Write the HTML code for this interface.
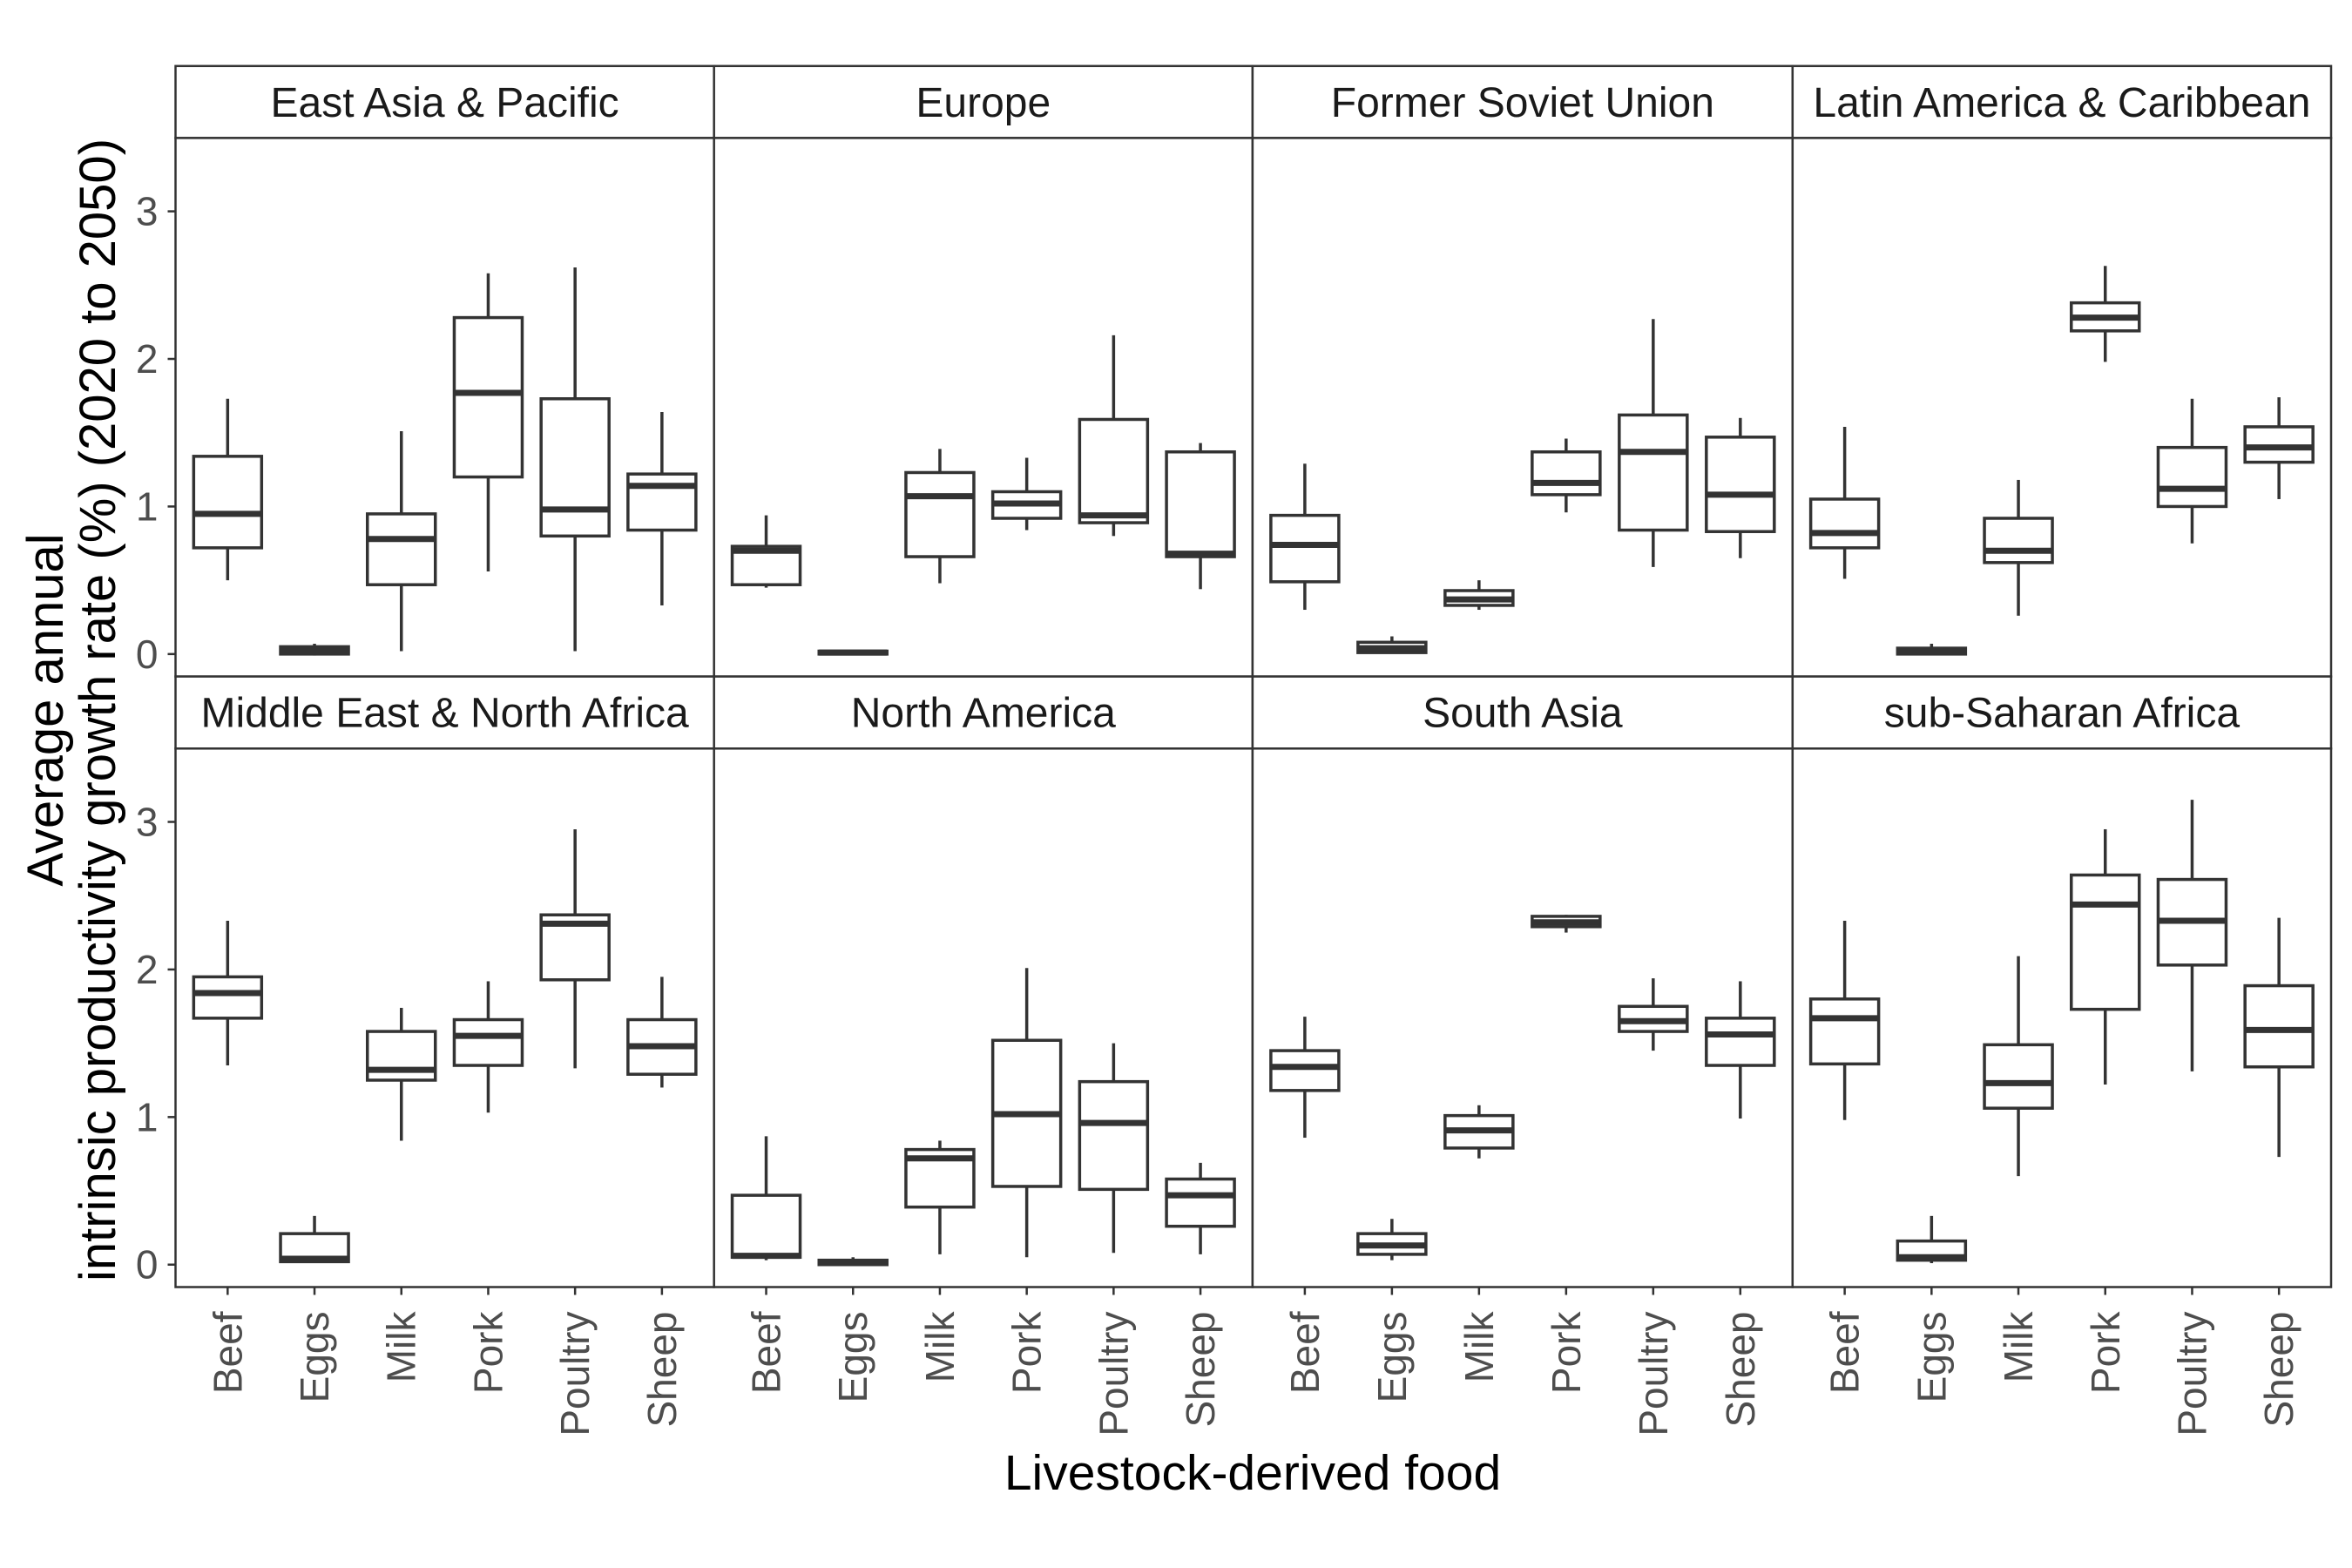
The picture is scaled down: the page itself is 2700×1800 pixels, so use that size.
<!DOCTYPE html>
<html><head><meta charset="utf-8"><style>
html,body{margin:0;padding:0;background:#fff;}
svg{display:block;font-family:"Liberation Sans",Arial,sans-serif;}
</style></head><body>
<svg id="chart" width="2700" height="1800" viewBox="0 0 2700 1800" xmlns="http://www.w3.org/2000/svg">
<text x="1438" y="1710" font-size="57" text-anchor="middle" fill="#000">Livestock-derived food</text>
<g transform="translate(0,815) rotate(-90)">
<text x="0" y="72" font-size="58" text-anchor="middle" fill="#000">Average annual</text>
<text x="0" y="132" font-size="58" text-anchor="middle" fill="#000">intrinsic productivity growth rate (%)  (2020 to 2050)</text>
</g>
<g id="panels"></g>
</svg>
<script>
const regions = ["East Asia & Pacific","Europe","Former Soviet Union","Latin America & Caribbean","Middle East & North Africa","North America","South Asia","sub-Saharan Africa"];
const foods = ["Beef","Eggs","Milk","Pork","Poultry","Sheep"];
const yTicks = [0,1,2,3];
// per region: [lowerWhisker, q1, median, q3, upperWhisker] for each food
const eap  = [[0.5,0.72,0.95,1.34,1.73],[-0.01,0,0.02,0.05,0.07],[0.02,0.47,0.78,0.95,1.51],[0.56,1.2,1.77,2.28,2.58],[0.02,0.8,0.98,1.73,2.62],[0.33,0.84,1.14,1.22,1.64]];
const eur  = [[0.45,0.47,0.7,0.73,0.94],[0,0,0.01,0.02,0.02],[0.48,0.66,1.07,1.23,1.39],[0.84,0.92,1.02,1.1,1.33],[0.8,0.89,0.94,1.59,2.16],[0.44,0.66,0.68,1.37,1.43]];
const fsu  = [[0.3,0.49,0.74,0.94,1.29],[0.01,0.01,0.04,0.08,0.12],[0.3,0.33,0.37,0.43,0.5],[0.96,1.08,1.16,1.37,1.46],[0.59,0.84,1.37,1.62,2.27],[0.65,0.83,1.08,1.47,1.6]];
const lac  = [[0.51,0.72,0.82,1.05,1.54],[0,0,0.02,0.04,0.07],[0.26,0.62,0.7,0.92,1.18],[1.98,2.19,2.28,2.38,2.63],[0.75,1.0,1.12,1.4,1.73],[1.05,1.3,1.4,1.54,1.74]];
const mena = [[1.35,1.67,1.84,1.95,2.33],[0.02,0.02,0.04,0.21,0.33],[0.84,1.25,1.32,1.58,1.74],[1.03,1.35,1.55,1.66,1.92],[1.33,1.93,2.31,2.37,2.95],[1.2,1.29,1.48,1.66,1.95]];
const nam  = [[0.03,0.05,0.06,0.47,0.87],[-0.01,0,0.01,0.03,0.05],[0.07,0.39,0.72,0.78,0.84],[0.05,0.53,1.02,1.52,2.01],[0.08,0.51,0.96,1.24,1.5],[0.07,0.26,0.47,0.58,0.69]];
const sas  = [[0.86,1.18,1.34,1.45,1.68],[0.03,0.07,0.13,0.21,0.31],[0.72,0.79,0.91,1.01,1.08],[2.25,2.29,2.32,2.36,2.37],[1.45,1.58,1.65,1.75,1.94],[0.99,1.35,1.56,1.67,1.92]];
const ssa  = [[0.98,1.36,1.67,1.8,2.33],[0.01,0.03,0.05,0.16,0.33],[0.6,1.06,1.23,1.49,2.09],[1.22,1.73,2.44,2.64,2.95],[1.31,2.03,2.33,2.61,3.15],[0.73,1.34,1.59,1.89,2.35]];
const regionData = [eap,eur,fsu,lac,mena,nam,sas,ssa];

const NS="http://www.w3.org/2000/svg";
const colX=[201.5,819.7,1437.9,2057.8,2676];
const rows=[{st:75.8,pt:158.4,pb:776.6},{st:776.6,pt:859.3,pb:1477.5}];
const yMin=-0.152,yMax=3.497;
const C="#333333";
function mk(tag,attrs,parent){const e=document.createElementNS(NS,tag);for(const k in attrs)e.setAttribute(k,attrs[k]);parent.appendChild(e);return e;}
const root=document.getElementById('panels');
regions.forEach((reg,ri)=>{
  const c=ri%4,r=Math.floor(ri/4);
  const x0=colX[c],x1=colX[c+1],row=rows[r];
  const yS=v=>row.pb-(v-yMin)/(yMax-yMin)*(row.pb-row.pt);
  const xS=i=>x0+(i+1-0.4)/6.2*(x1-x0);
  const g=mk('g',{},root);
  
  
  const strip=mk('rect',{x:x0,y:row.st,width:x1-x0,height:row.pt-row.st,fill:'#fff',stroke:C,'stroke-width':2.5},g);
  
  
  const st=mk('text',{x:(x0+x1)/2,y:row.st+58,'font-size':48,'text-anchor':'middle',fill:'#1a1a1a'},g);
  st.textContent=reg;
  
  
  const bg=mk('rect',{x:x0,y:row.pt,width:x1-x0,height:row.pb-row.pt,fill:'#fff',stroke:'none'},g);
  
  
  regionData[ri].forEach((d,fi)=>{
    const cx=xS(fi),hw=39;
    const bx=mk('g',{},g);
    
    
    mk('line',{x1:cx,x2:cx,y1:yS(d[0]),y2:yS(d[1]),stroke:C,'stroke-width':3.5},bx);
    mk('line',{x1:cx,x2:cx,y1:yS(d[3]),y2:yS(d[4]),stroke:C,'stroke-width':3.5},bx);
    mk('rect',{x:cx-hw,y:yS(d[3]),width:2*hw,height:Math.max(0.5,yS(d[1])-yS(d[3])),fill:'#fff',stroke:C,'stroke-width':3.5},bx);
    mk('line',{x1:cx-hw,x2:cx+hw,y1:yS(d[2]),y2:yS(d[2]),stroke:C,'stroke-width':7},bx);
  });
  const bd=mk('rect',{x:x0,y:row.pt,width:x1-x0,height:row.pb-row.pt,fill:'none',stroke:C,'stroke-width':2.5},g);
  
  
  if(c===0){
    yTicks.forEach(t=>{
      mk('line',{x1:x0-9,x2:x0,y1:yS(t),y2:yS(t),stroke:C,'stroke-width':2.5},g);
      const tl=mk('text',{x:x0-20,y:yS(t)+16,'font-size':46,'text-anchor':'end',fill:'#4d4d4d'},g);
      tl.textContent=t;
      
      
    });
  }
  if(r===1){
    foods.forEach((f,fi)=>{
      const cx=xS(fi);
      mk('line',{x1:cx,x2:cx,y1:row.pb,y2:row.pb+9,stroke:C,'stroke-width':2.5},g);
      const tl=mk('text',{transform:`translate(${cx+16},${row.pb+28}) rotate(-90)`,'font-size':46,'text-anchor':'end',fill:'#4d4d4d'},g);
      tl.textContent=f;
      
      
    });
  }
});
</script>
</body></html>
